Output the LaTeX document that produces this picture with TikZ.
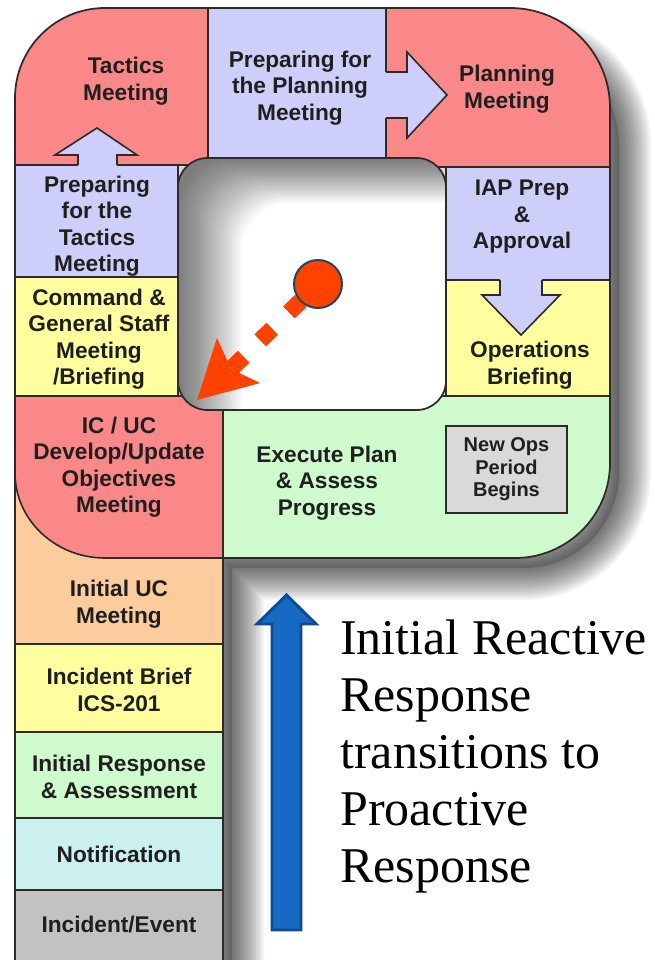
\documentclass[tikz,border=0pt]{standalone}
\usepackage{fontspec}
\setmainfont{Liberation Serif}
\newfontfamily\cellfont{Liberation Sans}
\usetikzlibrary{arrows.meta}
\pgfdeclarelayer{front}
\pgfsetlayers{main,front}
\definecolor{cred}{RGB}{250,136,136}
\definecolor{clav}{RGB}{206,206,250}
\definecolor{cyel}{RGB}{255,255,160}
\definecolor{cgrn}{RGB}{206,250,206}
\definecolor{corg}{RGB}{252,204,156}
\definecolor{ccyn}{RGB}{204,240,240}
\definecolor{cgry}{RGB}{194,194,194}
\definecolor{cgrylt}{RGB}{217,217,217}
\definecolor{edge}{RGB}{45,42,40}
\definecolor{dotred}{RGB}{255,66,0}
\definecolor{dotrim}{RGB}{25,75,90}
\definecolor{barblue}{RGB}{22,106,196}
\definecolor{barrim}{RGB}{12,76,146}
\begin{document}
\begin{tikzpicture}[x=0.75pt,y=-0.75pt,
  cell/.style={draw=edge,line width=1.2pt},
  blockarrow/.style={draw=edge,line width=1.2pt,line join=miter},
  lbl/.style={font=\cellfont\bfseries\fontsize{17}{19.9}\selectfont,align=center,text=black!88,inner sep=0pt},
  smalllbl/.style={font=\cellfont\bfseries\fontsize{15}{16.9}\selectfont,align=center,text=black!88,inner sep=0pt}]
\def\outerpath{(15,990) -- (15,98) arc[start angle=180,end angle=270,radius=90] -- (510,8) arc[start angle=270,end angle=360,radius=100] -- (610,463) arc[start angle=0,end angle=90,radius=95] -- (223,558) -- (223,990) -- cycle}
\def\shadowpath{(24,990) -- (24,135) arc[start angle=180,end angle=270,radius=90] -- (519,45) arc[start angle=270,end angle=360,radius=100] -- (619,473) arc[start angle=0,end angle=90,radius=95] -- (232,568) -- (232,990) -- cycle}
\useasboundingbox (0,0) rectangle (655,960);
\fill[white] (0,0) rectangle (655,960);
% outer soft shadow
\begin{scope}
\clip (105,0) -- (655,0) -- (655,960) -- (15,960) -- (15,98) -- cycle;
\fill[black,opacity=0.15] \shadowpath;
\foreach \w in {4,8,...,64}{
  \draw[black,opacity=0.045,line width=\w*0.75pt] \shadowpath;
}
\end{scope}
% cells
\begin{scope}
\clip \outerpath;
\filldraw[cell,fill=cred] (15,8) rectangle (208,165);
\filldraw[cell,fill=clav] (208,8) rectangle (386,158);
\filldraw[cell,fill=cred] (386,8) rectangle (610,167);
\filldraw[cell,fill=clav] (446,167) rectangle (610,280);
\filldraw[cell,fill=cyel] (446,280) rectangle (610,396);
\filldraw[cell,fill=cgrn] (223,396) rectangle (610,558);
\filldraw[cell,fill=clav] (15,165) rectangle (178,277);
\filldraw[cell,fill=cyel] (15,277) rectangle (178,396);
\filldraw[cell,fill=corg] (15,460) rectangle (223,644);
\filldraw[cell,fill=cred] (15,396) -- (223,396) -- (223,558) -- (105,558) arc[start angle=90,end angle=180,x radius=90,y radius=85] -- cycle;
\filldraw[cell,fill=cyel] (15,644) rectangle (223,732);
\filldraw[cell,fill=cgrn] (15,732) rectangle (223,818);
\filldraw[cell,fill=ccyn] (15,818) rectangle (223,890);
\filldraw[cell,fill=cgry] (15,890) rectangle (223,990);
\end{scope}
% block arrows inside the cells
\fill[clav] (78,168) -- (78,155) -- (55,155) -- (97,128) -- (137,155) -- (117,155) -- (117,168) -- cycle;
\draw[blockarrow] (78,165) -- (78,155) -- (55,155) -- (97,128) -- (137,155) -- (117,155) -- (117,165);
\fill[clav] (383,72) -- (407,72) -- (407,52) -- (447,95) -- (407,138) -- (407,118) -- (383,118) -- cycle;
\draw[blockarrow] (386,72) -- (407,72) -- (407,52) -- (447,95) -- (407,138) -- (407,118) -- (386,118);
\fill[clav] (500,277) -- (500,295) -- (482,295) -- (521,335) -- (560,295) -- (542,295) -- (542,277) -- cycle;
\draw[blockarrow] (500,280) -- (500,295) -- (482,295) -- (521,335) -- (560,295) -- (542,295) -- (542,280);
% the hole with its inner shadow
\begin{scope}
\clip[rounded corners=22pt] (178,158) rectangle (446,410);
\fill[white] (178,158) rectangle (446,410);
\foreach \s in {2,4,...,64}{
  \fill[black,opacity=0.021,even odd rule] (100,100) rectangle (540,500)
    [rounded corners=36pt] ({178+\s},{158+0.7*\s}) rectangle ({470+\s},{430+0.7*\s});
}
\end{scope}
\draw[edge,line width=1.3pt,rounded corners=22pt] (178,158) rectangle (446,410);
\draw[edge,line width=1.3pt] \outerpath;
% labels
\node[lbl] (tactics) at (126,81) {Tactics\\Meeting};
\node[lbl] (prepplan) at (300,88) {Preparing for\\the Planning\\Meeting};
\node[lbl] (planning) at (507,89) {Planning\\Meeting};
\node[lbl] (iap) at (522,217) {IAP Prep\\\&\\Approval};
\node[lbl] (opsbrief) at (530,365) {Operations\\Briefing};
\node[lbl] (preptac) at (97,226) {Preparing\\for the\\Tactics\\Meeting};
\node[lbl] (cgs) at (99,339) {Command \&\\General Staff\\Meeting\\/Briefing};
\node[lbl] (icuc) at (119,467) {IC / UC\\Develop/Update\\Objectives\\Meeting};
\node[lbl] (execute) at (327,483) {Execute Plan\\\& Assess\\Progress};
\node[lbl] (initialuc) at (119,604) {Initial UC\\Meeting};
\node[lbl] (brief) at (119,690) {Incident Brief\\ICS-201};
\node[lbl] (initresp) at (119,777) {Initial Response\\\& Assessment};
\node[lbl] (notif) at (119,854) {Notification};
\node[lbl] (event) at (119,925) {Incident/Event};
\node[smalllbl,draw=edge,fill=cgrylt,line width=1.2pt,minimum width=90.75pt,minimum height=65.25pt] (newops) at (506.5,469.5) {New Ops\\Period\\Begins};
% red dot with dashed arrow
\begin{pgfonlayer}{front}
\node[circle,fill=dotred,draw=dotrim,line width=1.5pt,minimum size=36pt,inner sep=0pt] (dot) at (318,284) {};
\end{pgfonlayer}
\coordinate (notch) at (231,369);
\coordinate (tip) at (197,400);
\draw[dotred,line width=12.5pt,dash pattern=on 12.5pt off 17.5pt,dash phase=12pt] (dot.center) -- (notch);
\fill[dotred] (tip) -- (217,338) -- (notch) -- (260,383) -- cycle;
% blue arrow and caption
\draw[fill=barblue,draw=barrim,line width=2.2pt,line join=miter] (272,930) -- (272,624) -- (257,624) -- (286.5,595) -- (316,624) -- (301,624) -- (301,930) -- cycle;
\node[anchor=north west,align=left,inner sep=0pt,font=\fontsize{37.5}{42.75}\selectfont] (caption) at (340,620) {Initial Reactive\\Response\\transitions to\\Proactive\\Response};
\end{tikzpicture}
\end{document}
